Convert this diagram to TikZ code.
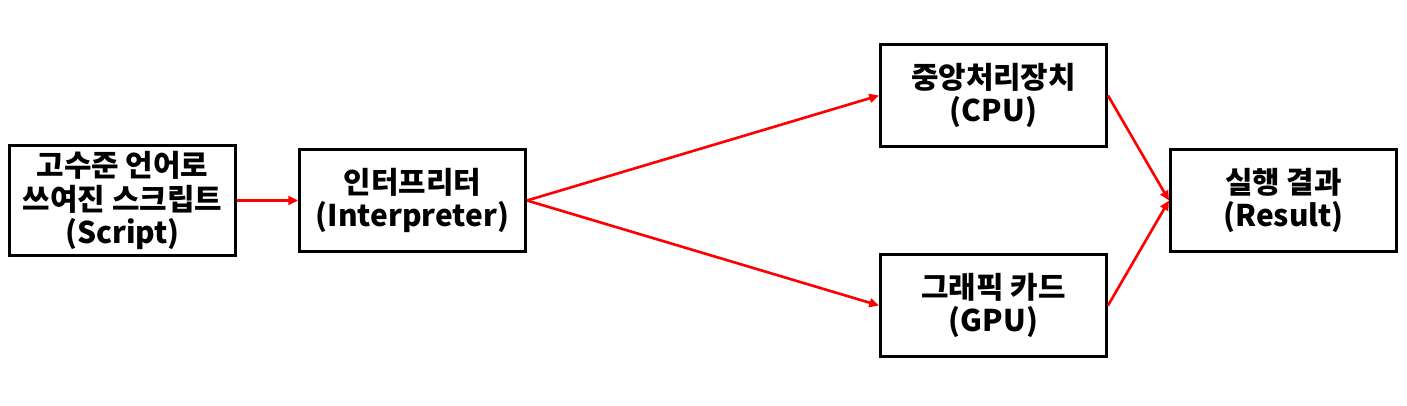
\documentclass[tikz,border=0pt]{standalone}
\usepackage{fontspec}
\setmainfont{Noto Sans CJK KR}
\usepackage{xcolor}
\usepackage{tikz}
\usetikzlibrary{arrows.meta, positioning}
\definecolor{myred}{RGB}{255,0,0}
\tikzset{
  block/.style={rectangle, draw=black, fill=white,
    minimum width=4.52cm, minimum height=2.04cm, align=center,
    font=\fontsize{17}{18.8}\selectfont\bfseries, line width=1.7pt},
  redarrow/.style={-{Triangle[length=5.5pt, width=5pt]}, line width=1.5pt, color=myred}
}
\begin{document}
\begin{tikzpicture}
  \useasboundingbox (0,0) rectangle (28.14,8.1);

  % Blocks
  \node[block] (script) at (2.45,4.09)  {고수준 언어로\\쓰여진 스크립트\\(Script)};
  \node[block] (interp) at (8.25,4.09)  {인터프리터\\(Interpreter)};
  \node[block] (cpu)    at (19.87,6.19) {중앙처리장치\\(CPU)};
  \node[block] (gpu)    at (19.87,1.99) {그래픽 카드\\(GPU)};
  \node[block] (result) at (25.67,4.09) {실행 결과\\(Result)};

  % Links
  \draw[redarrow] (script.east) -- (interp.west);
  \draw[redarrow] (interp.east) -- (cpu.west);
  \draw[redarrow] (interp.east) -- (gpu.west);
  \draw[redarrow] (cpu.east) -- (result.west);
  \draw[redarrow] (gpu.east) -- (result.west);
\end{tikzpicture}
\end{document}
